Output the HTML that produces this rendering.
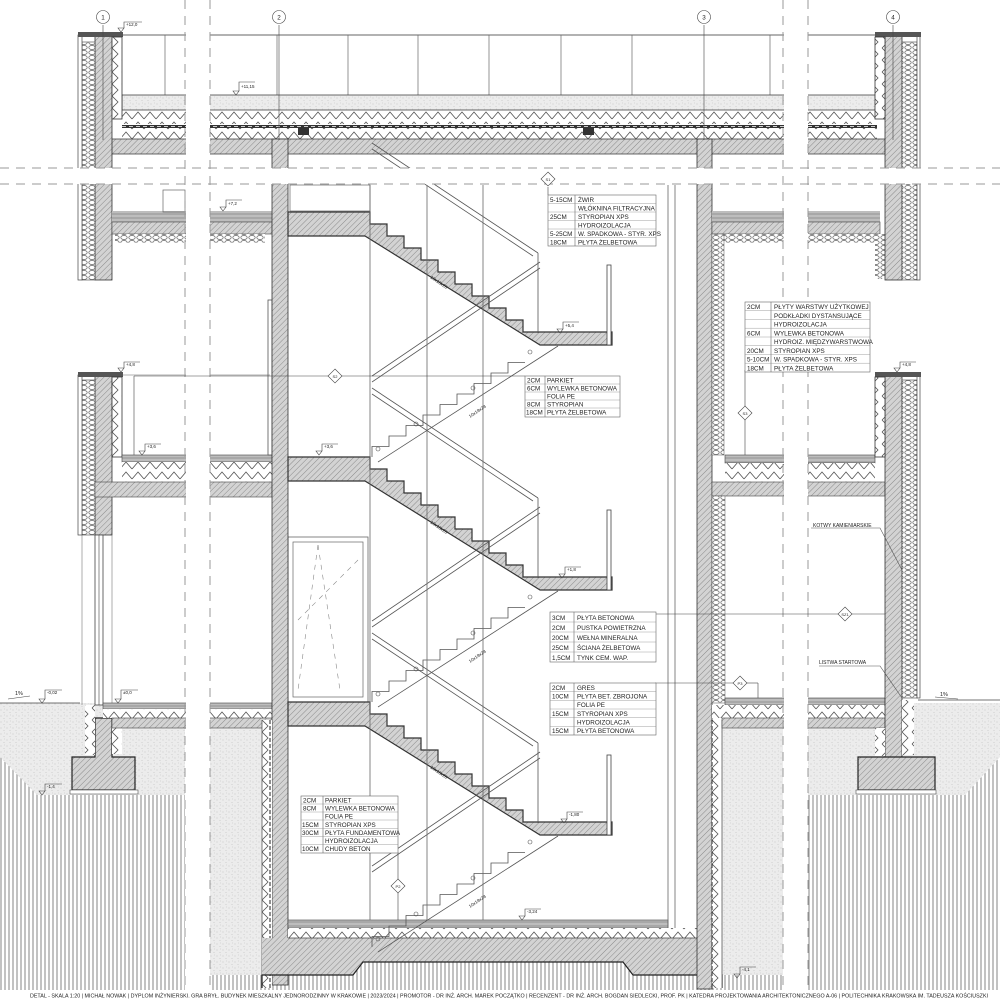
<!DOCTYPE html>
<html><head><meta charset="utf-8"><style>
html,body{margin:0;padding:0;background:#fff}
svg{display:block}
text{font-family:"Liberation Sans",sans-serif;fill:#222}
.t{font-size:6.3px}
.s{font-size:4.5px}
</style></head><body>
<svg width="1000" height="1000" viewBox="0 0 1000 1000" xmlns="http://www.w3.org/2000/svg">
<defs>
<pattern id="h" width="4" height="4" patternUnits="userSpaceOnUse" patternTransform="rotate(45)">
<rect width="4" height="4" fill="#d3d3d3"/><line x1="0" y1="0" x2="0" y2="4" stroke="#8a8a8a" stroke-width="1"/></pattern>
<pattern id="v" width="4" height="4" patternUnits="userSpaceOnUse">
<rect width="4" height="4" fill="#fff"/><line x1="1" y1="0" x2="1" y2="4" stroke="#777" stroke-width="0.9"/></pattern>
<pattern id="sp" width="6" height="6" patternUnits="userSpaceOnUse">
<rect width="6" height="6" fill="#ececec"/><circle cx="1" cy="2" r=".5" fill="#bbb"/><circle cx="4" cy="4.5" r=".5" fill="#c4c4c4"/><circle cx="4.5" cy="1" r=".4" fill="#bbb"/></pattern>
<pattern id="z" width="12" height="10" patternUnits="userSpaceOnUse">
<rect width="12" height="10" fill="#fff"/><polyline points="0,9 6,2 12,9" fill="none" stroke="#555" stroke-width=".8"/></pattern>
<pattern id="zv" width="10" height="12" patternUnits="userSpaceOnUse">
<rect width="10" height="12" fill="#fff"/><polyline points="2,0 8,6 2,12" fill="none" stroke="#555" stroke-width=".8"/></pattern>
<pattern id="c" width="8" height="5" patternUnits="userSpaceOnUse">
<rect width="8" height="5" fill="#fff"/><ellipse cx="4" cy="2.5" rx="3.2" ry="2" fill="none" stroke="#666" stroke-width=".7"/></pattern>
<pattern id="cv" width="8" height="5" patternUnits="userSpaceOnUse">
<rect width="8" height="5" fill="#fff"/><ellipse cx="4" cy="2.5" rx="3.2" ry="2" fill="none" stroke="#666" stroke-width=".7"/></pattern>
<pattern id="fin" width="4" height="4" patternUnits="userSpaceOnUse">
<rect width="4" height="4" fill="#bdbdbd"/><line x1="0" y1="2" x2="4" y2="2" stroke="#777" stroke-width=".6"/></pattern>

<g id="flight">
<path d="M288,212 H370 v12h17v12h17v12h17v12h17v12h17v12h17v12h17v12h17v12h17v12h17 H612 V345 H540 L365,236 H288 Z" fill="url(#h)" stroke="#333" stroke-width="1.2"/>
<rect x="607" y="265" width="4" height="80" fill="#fff" stroke="#444" stroke-width=".8"/>
<path d="M372,457 v-10.5h17v-10.5h17v-10.5h17v-10.5h17v-10.5h17v-10.5h17v-10.5h17v-10.5h17v-10.5h17" fill="none" stroke="#555" stroke-width=".8"/>
<line x1="378" y1="462" x2="558" y2="346" stroke="#555" stroke-width=".8"/>
<line x1="372" y1="376" x2="540" y2="262" stroke="#555" stroke-width=".8"/>
<line x1="372" y1="382" x2="540" y2="268" stroke="#555" stroke-width=".8"/>
<line x1="372" y1="143" x2="538" y2="253" stroke="#555" stroke-width=".8"/>
<line x1="372" y1="149" x2="533" y2="256" stroke="#555" stroke-width=".8"/>
<line x1="538" y1="253" x2="538" y2="333" stroke="#555" stroke-width=".8"/>
<circle cx="378" cy="449" r="2" fill="none" stroke="#555" stroke-width=".6"/>
<circle cx="416" cy="424" r="2" fill="none" stroke="#555" stroke-width=".6"/>
<circle cx="473" cy="388" r="2" fill="none" stroke="#555" stroke-width=".6"/>
<circle cx="530" cy="352" r="2" fill="none" stroke="#555" stroke-width=".6"/>
<text class="s" transform="translate(430,278) rotate(34)">10x18x28</text>
<text class="s" transform="translate(470,418) rotate(-34)">10x18x28</text>
</g>
</defs>

<!-- ground / soil -->
<path d="M0,703 H185 V1000 H0 Z" fill="url(#sp)"/>
<path d="M0,757 L37,795 H185 V1000 H0 Z" fill="url(#v)"/>
<path d="M808,703 H1000 V1000 H808 Z" fill="url(#sp)"/>
<path d="M1000,757 L965,795 H808 V1000 H1000 Z" fill="url(#v)"/>
<rect x="210" y="720" width="55" height="275" fill="url(#sp)"/>
<rect x="718" y="720" width="65" height="275" fill="url(#sp)"/>
<path d="M210,975 H353 L363,962 H623 L633,975 H783 V995 H210 Z" fill="url(#v)"/>
<line x1="0" y1="703" x2="80" y2="703" stroke="#444" stroke-width=".8"/>
<line x1="918" y1="700" x2="1000" y2="700" stroke="#444" stroke-width=".8"/>

<!-- roof -->
<line x1="78" y1="35" x2="920" y2="35" stroke="#666" stroke-width="1"/>
<g stroke="#666" stroke-width=".7">
<line x1="165" y1="35" x2="165" y2="95"/><line x1="277" y1="35" x2="277" y2="95"/><line x1="348" y1="35" x2="348" y2="95"/><line x1="418" y1="35" x2="418" y2="95"/><line x1="489" y1="35" x2="489" y2="95"/><line x1="561" y1="35" x2="561" y2="95"/><line x1="632" y1="35" x2="632" y2="95"/><line x1="770" y1="35" x2="770" y2="95"/>
</g>
<rect x="122" y="95" width="755" height="15" fill="url(#sp)" stroke="#444" stroke-width=".8"/>
<rect x="122" y="111" width="755" height="13" fill="url(#z)"/>
<rect x="122" y="125" width="755" height="3" fill="#333"/>
<line x1="122" y1="126.5" x2="877" y2="126.5" stroke="#fff" stroke-width=".8" stroke-dasharray="4,3"/>
<rect x="122" y="128" width="755" height="11" fill="url(#z)"/>
<rect x="298" y="127" width="11" height="8" fill="#333"/><rect x="583" y="127" width="11" height="8" fill="#333"/>
<rect x="110" y="139" width="775" height="15" fill="url(#h)" stroke="#444" stroke-width=".8"/>

<!-- left wall 1 -->
<g>
<rect x="95" y="35" width="17" height="245" fill="url(#h)" stroke="#333" stroke-width=".8"/>
<rect x="82" y="42" width="13" height="238" fill="url(#cv)" stroke="#444" stroke-width=".6"/>
<rect x="78" y="35" width="4" height="245" fill="#fff" stroke="#444" stroke-width=".7"/>
<rect x="78" y="32" width="45" height="5" fill="#555"/>
<rect x="112" y="37" width="10" height="82" fill="url(#zv)" stroke="#333" stroke-width=".8"/>
<rect x="95" y="375" width="17" height="160" fill="url(#h)" stroke="#333" stroke-width=".8"/>
<rect x="82" y="380" width="13" height="155" fill="url(#cv)" stroke="#444" stroke-width=".6"/>
<rect x="78" y="375" width="4" height="160" fill="#fff" stroke="#444" stroke-width=".7"/>
<rect x="78" y="372" width="45" height="5" fill="#555"/>
<rect x="112" y="377" width="10" height="80" fill="url(#zv)" stroke="#333" stroke-width=".8"/>
<rect x="95" y="535" width="8" height="170" fill="#fff" stroke="#444" stroke-width=".8"/>
<line x1="99" y1="535" x2="99" y2="705" stroke="#444" stroke-width=".6"/>
<line x1="82" y1="535" x2="82" y2="705" stroke="#777" stroke-width=".6"/>
<line x1="112" y1="535" x2="112" y2="705" stroke="#777" stroke-width=".6"/>
<path d="M95,718 H112 V757 H135 V790 H72 V757 H95 Z" fill="url(#h)" stroke="#222" stroke-width="1.2"/>
<rect x="70" y="790" width="68" height="4" fill="#fff" stroke="#555" stroke-width=".6"/>
<rect x="85" y="705" width="10" height="50" fill="url(#zv)"/>
<rect x="112" y="718" width="10" height="36" fill="url(#zv)"/>
</g>
<!-- left floor at +7.2 and +3.6 and 0 -->
<rect x="112" y="211" width="160" height="5" fill="url(#fin)"/>
<rect x="112" y="216" width="160" height="6" fill="url(#fin)"/>
<rect x="112" y="222" width="160" height="12" fill="url(#h)" stroke="#444" stroke-width=".6"/>
<rect x="115" y="234" width="150" height="9" fill="url(#c)"/>
<rect x="122" y="455" width="150" height="7" fill="url(#fin)" stroke="#444" stroke-width=".6"/>
<rect x="122" y="462" width="150" height="20" fill="url(#z)"/>
<rect x="95" y="482" width="177" height="15" fill="url(#h)" stroke="#444" stroke-width=".6"/>
<rect x="103" y="703" width="169" height="6" fill="url(#fin)" stroke="#444" stroke-width=".6"/>
<rect x="103" y="709" width="169" height="9" fill="url(#z)"/>
<rect x="112" y="718" width="160" height="10" fill="url(#h)" stroke="#444" stroke-width=".6"/>
<rect x="268" y="300" width="8" height="155" fill="#fff" stroke="#555" stroke-width=".8"/>
<line x1="272" y1="300" x2="272" y2="455" stroke="#555" stroke-width=".6"/>
<rect x="288" y="537" width="80" height="165" fill="#fff" stroke="#666" stroke-width=".8"/>
<rect x="293" y="542" width="70" height="155" fill="#fff" stroke="#666" stroke-width=".7"/>
<g stroke="#888" stroke-width=".6" stroke-dasharray="5,5"><line x1="318" y1="545" x2="298" y2="690"/><line x1="318" y1="545" x2="340" y2="690"/><line x1="358" y1="560" x2="298" y2="620"/></g>
<rect x="163" y="190" width="22" height="22" fill="none" stroke="#666" stroke-width=".7"/>
<rect x="290" y="185" width="80" height="26" fill="none" stroke="#666" stroke-width=".7"/>
<line x1="122" y1="375" x2="270" y2="375" stroke="#666" stroke-width=".6"/>

<!-- wall 2 -->
<rect x="272" y="139" width="16" height="846" fill="url(#h)" stroke="#333" stroke-width=".8"/>
<rect x="262" y="720" width="10" height="268" fill="url(#zv)"/>
<line x1="262" y1="720" x2="262" y2="988" stroke="#444" stroke-width=".7"/>
<line x1="270" y1="720" x2="270" y2="988" stroke="#222" stroke-width="1" stroke-dasharray="4,2"/>

<!-- basement slab -->
<rect x="288" y="920" width="380" height="8" fill="url(#fin)" stroke="#444" stroke-width=".6"/>
<rect x="288" y="928" width="409" height="10" fill="url(#z)"/>
<path d="M262,938 H697 V975 H633 L623,962 H363 L353,975 H262 Z" fill="url(#h)"/>
<path d="M262,988 V975 H353 L363,962 H623 L633,975 H722 V988" fill="none" stroke="#222" stroke-width="1.2"/>
<line x1="288" y1="938" x2="697" y2="938" stroke="#444" stroke-width=".7"/>

<!-- stairs -->
<use href="#flight"/>
<use href="#flight" transform="translate(0,245)"/>
<use href="#flight" transform="translate(0,490)"/>
<g stroke="#666" stroke-width=".8">
<line x1="370" y1="185" x2="370" y2="920"/><line x1="427" y1="185" x2="427" y2="920"/><line x1="483" y1="185" x2="483" y2="920"/>
<line x1="668" y1="185" x2="668" y2="928"/><line x1="675" y1="185" x2="675" y2="928"/>
</g>

<!-- wall 3 -->
<rect x="697" y="139" width="15" height="850" fill="url(#h)" stroke="#333" stroke-width=".8"/>
<rect x="712" y="720" width="10" height="268" fill="url(#zv)"/>
<line x1="722" y1="720" x2="722" y2="988" stroke="#444" stroke-width=".7"/>
<line x1="712" y1="720" x2="712" y2="988" stroke="#222" stroke-width="1" stroke-dasharray="4,2"/>
<!-- right floors -->
<rect x="712" y="211" width="168" height="5" fill="url(#fin)"/>
<rect x="712" y="216" width="168" height="6" fill="url(#fin)"/>
<rect x="712" y="222" width="168" height="12" fill="url(#h)" stroke="#444" stroke-width=".6"/>
<rect x="712" y="234" width="168" height="9" fill="url(#c)"/>
<rect x="712" y="234" width="12" height="221" fill="url(#cv)" stroke="#555" stroke-width=".5"/>
<rect x="875" y="234" width="10" height="45" fill="url(#cv)"/>
<rect x="725" y="455" width="150" height="8" fill="url(#fin)" stroke="#444" stroke-width=".6"/>
<rect x="725" y="463" width="150" height="19" fill="url(#z)"/>
<rect x="712" y="482" width="173" height="14" fill="url(#h)" stroke="#444" stroke-width=".6"/>
<rect x="712" y="496" width="13" height="207" fill="url(#cv)" stroke="#555" stroke-width=".5"/>
<rect x="725" y="698" width="160" height="7" fill="url(#fin)" stroke="#444" stroke-width=".6"/>
<rect x="712" y="705" width="173" height="13" fill="url(#z)"/>
<rect x="722" y="718" width="163" height="10" fill="url(#h)" stroke="#444" stroke-width=".6"/>

<!-- wall 4 -->
<rect x="885" y="35" width="17" height="245" fill="url(#h)" stroke="#333" stroke-width=".8"/>
<rect x="902" y="42" width="15" height="238" fill="url(#cv)" stroke="#444" stroke-width=".6"/>
<rect x="917" y="35" width="3" height="245" fill="#fff" stroke="#444" stroke-width=".7"/>
<rect x="875" y="32" width="46" height="5" fill="#555"/>
<rect x="875" y="37" width="10" height="82" fill="url(#zv)" stroke="#333" stroke-width=".8"/>
<rect x="885" y="375" width="17" height="382" fill="url(#h)" stroke="#333" stroke-width=".8"/>
<rect x="902" y="380" width="15" height="318" fill="url(#cv)" stroke="#444" stroke-width=".6"/>
<rect x="917" y="375" width="3" height="323" fill="#fff" stroke="#444" stroke-width=".7"/>
<rect x="875" y="372" width="46" height="5" fill="#555"/>
<rect x="875" y="377" width="10" height="80" fill="url(#zv)" stroke="#333" stroke-width=".8"/>
<path d="M878,757 H935 V790 H858 V757 Z" fill="url(#h)" stroke="#222" stroke-width="1.2"/>
<rect x="856" y="790" width="80" height="4" fill="#fff" stroke="#555" stroke-width=".6"/>
<rect x="902" y="700" width="12" height="55" fill="url(#zv)"/>
<rect x="875" y="728" width="10" height="28" fill="url(#zv)"/>

<!-- white cut bands -->
<rect x="186" y="0" width="24" height="1000" fill="#fff"/>
<rect x="784" y="0" width="24" height="1000" fill="#fff"/>
<rect x="0" y="168" width="1000" height="16" fill="#fff"/>
<g stroke="#999" stroke-width="1" stroke-dasharray="9,7">
<line x1="185" y1="0" x2="185" y2="990"/><line x1="210" y1="0" x2="210" y2="990"/>
<line x1="783" y1="0" x2="783" y2="990"/><line x1="808" y1="0" x2="808" y2="990"/>
<line x1="0" y1="168" x2="1000" y2="168"/><line x1="0" y1="184" x2="1000" y2="184"/>
</g>

<!-- axes -->
<g stroke="#444" stroke-width=".6" fill="#fff">
<line x1="103" y1="25" x2="103" y2="140"/><line x1="279" y1="25" x2="279" y2="140"/><line x1="704" y1="25" x2="704" y2="140"/><line x1="893" y1="25" x2="893" y2="140"/>
<circle cx="103" cy="17" r="6.5"/><circle cx="279" cy="17" r="6.5"/><circle cx="704" cy="17" r="6.5"/><circle cx="893" cy="17" r="6.5"/>
</g>
<g class="t" text-anchor="middle"><text x="103" y="19.5">1</text><text x="279" y="19.5">2</text><text x="704" y="19.5">3</text><text x="893" y="19.5">4</text></g>

<!-- level markers -->
<g stroke="#444" stroke-width=".6" fill="none">
<path d="M121,32 l3,-4 h-6 z M124,28 V22 H142"/>
<path d="M236,95 l3,-4 h-6 z M239,91 V82 H255"/>
<path d="M223,211 l3,-4 h-6 z M226,207 V200 H242"/>
<path d="M560,333 l3,-4 h-6 z M563,329 V322 H579"/>
<path d="M121,372 l3,-4 h-6 z M124,368 V362 H140"/>
<path d="M897,372 l3,-4 h-6 z M900,368 V362 H916"/>
<path d="M142,455 l3,-4 h-6 z M145,451 V444 H161"/>
<path d="M319,455 l3,-4 h-6 z M322,451 V444 H338"/>
<path d="M562,578 l3,-4 h-6 z M565,574 V567 H581"/>
<path d="M42,703 l3,-4 h-6 z M45,699 V690 H62"/>
<path d="M118,703 l3,-4 h-6 z M121,699 V690 H138"/>
<path d="M42,795 l3,-4 h-6 z M45,791 V784 H62"/>
<path d="M564,823 l3,-4 h-6 z M567,819 V812 H583"/>
<path d="M522,920 l3,-4 h-6 z M525,916 V909 H541"/>
<path d="M737,978 l3,-4 h-6 z M740,974 V967 H756"/>
<line x1="8" y1="699" x2="30" y2="696"/><line x1="935" y1="697" x2="958" y2="699"/>
</g>
<g class="s">
<text x="126" y="26">+12,0</text><text x="241" y="88">+11,15</text><text x="228" y="205">+7,2</text><text x="565" y="327">+5,4</text>
<text x="126" y="366">+4,8</text><text x="902" y="366">+4,8</text><text x="147" y="448">+3,6</text><text x="324" y="448">+3,6</text>
<text x="567" y="571">+1,8</text><text x="47" y="694">-0,02</text><text x="123" y="694">±0,0</text><text x="47" y="788">-1,4</text>
<text x="569" y="816">-1,80</text><text x="527" y="913">-3,24</text><text x="742" y="971">-4,1</text>
<text x="15" y="695" style="font-size:5.5px">1%</text><text x="940" y="696" style="font-size:5.5px">1%</text>
</g>

<!-- section markers -->
<g stroke="#444" stroke-width=".6" fill="#fff">
<line x1="548" y1="187" x2="548" y2="195"/>
<path d="M548,172 l7,7 -7,7 -7,-7z"/>
<line x1="134" y1="376" x2="330" y2="376"/><line x1="134" y1="376" x2="134" y2="455"/><line x1="342" y1="376" x2="525" y2="376"/>
<path d="M335,369 l7,7 -7,7 -7,-7z"/>
<line x1="745" y1="370" x2="745" y2="406"/><line x1="745" y1="420" x2="745" y2="455"/>
<path d="M745,406 l7,7 -7,7 -7,-7z"/>
<line x1="700" y1="614" x2="838" y2="614"/><line x1="852" y1="614" x2="885" y2="614"/><line x1="655" y1="614" x2="700" y2="614"/>
<path d="M845,607 l7,7 -7,7 -7,-7z"/>
<line x1="655" y1="683" x2="733" y2="683"/><line x1="747" y1="683" x2="758" y2="683"/><line x1="758" y1="683" x2="758" y2="698"/>
<path d="M740,676 l7,7 -7,7 -7,-7z"/>
<line x1="398" y1="852" x2="398" y2="879"/><line x1="398" y1="893" x2="398" y2="920"/>
<path d="M398,879 l7,7 -7,7 -7,-7z"/>
</g>
<g style="font-size:4px" text-anchor="middle"><text x="548" y="181">S1</text><text x="335" y="378">S2</text><text x="745" y="415">S3</text><text x="845" y="616">SZ1</text><text x="740" y="685">P3</text><text x="398" y="888">P2</text></g>

<!-- leaders -->
<g stroke="#555" stroke-width=".6" fill="none">
<path d="M811,528 H880 L902,570"/><path d="M819,666 H880 L902,698"/>
</g>
<text class="s" x="813" y="527" style="font-size:5px">KOTWY KAMIENIARSKIE</text>
<text class="s" x="819" y="664" style="font-size:5px">LISTWA STARTOWA</text>

<!-- tables -->
<g fill="#fff" stroke="#666" stroke-width=".6">
<rect x="548" y="195" width="108" height="51"/><line x1="575" y1="195" x2="575" y2="246"/>
<rect x="525" y="376" width="95" height="41"/><line x1="545" y1="376" x2="545" y2="417"/>
<rect x="745" y="302" width="125" height="70"/><line x1="771" y1="302" x2="771" y2="372"/>
<rect x="550" y="612" width="106" height="50"/><line x1="574" y1="612" x2="574" y2="662"/>
<rect x="550" y="683" width="106" height="52"/><line x1="574" y1="683" x2="574" y2="735"/>
<rect x="301" y="796" width="97" height="57"/><line x1="323" y1="796" x2="323" y2="853"/>
</g>
<g stroke="#888" stroke-width=".4">
<line x1="548" y1="203.5" x2="656" y2="203.5"/><line x1="548" y1="212" x2="656" y2="212"/><line x1="548" y1="220.5" x2="656" y2="220.5"/><line x1="548" y1="229" x2="656" y2="229"/><line x1="548" y1="237.5" x2="656" y2="237.5"/>
<line x1="525" y1="384" x2="620" y2="384"/><line x1="525" y1="392" x2="620" y2="392"/><line x1="525" y1="400" x2="620" y2="400"/><line x1="525" y1="408" x2="620" y2="408"/>
<line x1="745" y1="310.7" x2="870" y2="310.7"/><line x1="745" y1="319.5" x2="870" y2="319.5"/><line x1="745" y1="328.2" x2="870" y2="328.2"/><line x1="745" y1="337" x2="870" y2="337"/><line x1="745" y1="345.7" x2="870" y2="345.7"/><line x1="745" y1="354.5" x2="870" y2="354.5"/><line x1="745" y1="363.2" x2="870" y2="363.2"/>
<line x1="550" y1="622" x2="656" y2="622"/><line x1="550" y1="632" x2="656" y2="632"/><line x1="550" y1="642" x2="656" y2="642"/><line x1="550" y1="652" x2="656" y2="652"/>
<line x1="550" y1="691.7" x2="656" y2="691.7"/><line x1="550" y1="700.3" x2="656" y2="700.3"/><line x1="550" y1="709" x2="656" y2="709"/><line x1="550" y1="717.7" x2="656" y2="717.7"/><line x1="550" y1="726.3" x2="656" y2="726.3"/>
<line x1="301" y1="804" x2="398" y2="804"/><line x1="301" y1="812" x2="398" y2="812"/><line x1="301" y1="820" x2="398" y2="820"/><line x1="301" y1="828.5" x2="398" y2="828.5"/><line x1="301" y1="836.5" x2="398" y2="836.5"/><line x1="301" y1="844.5" x2="398" y2="844.5"/>
</g>
<g class="t">
<text x="550" y="202">5-15CM</text><text x="578" y="202">ŻWIR</text>
<text x="578" y="210.5">WŁÓKNINA FILTRACYJNA</text>
<text x="550" y="219">25CM</text><text x="578" y="219">STYROPIAN XPS</text>
<text x="578" y="227.5">HYDROIZOLACJA</text>
<text x="550" y="236">5-25CM</text><text x="578" y="236">W. SPADKOWA - STYR. XPS</text>
<text x="550" y="244.5">18CM</text><text x="578" y="244.5">PŁYTA ŻELBETOWA</text>

<text x="527" y="382.5">2CM</text><text x="547" y="382.5">PARKIET</text>
<text x="527" y="390.5">6CM</text><text x="547" y="390.5">WYLEWKA BETONOWA</text>
<text x="547" y="398.5">FOLIA PE</text>
<text x="527" y="406.5">8CM</text><text x="547" y="406.5">STYROPIAN</text>
<text x="526" y="414.5">18CM</text><text x="547" y="414.5">PŁYTA ŻELBETOWA</text>

<text x="747" y="309">2CM</text><text x="774" y="309">PŁYTY WARSTWY UŻYTKOWEJ</text>
<text x="774" y="318">PODKŁADKI DYSTANSUJĄCE</text>
<text x="774" y="326.5">HYDROIZOLACJA</text>
<text x="747" y="335.5">6CM</text><text x="774" y="335.5">WYLEWKA BETONOWA</text>
<text x="774" y="344">HYDROIZ. MIĘDZYWARSTWOWA</text>
<text x="747" y="353">20CM</text><text x="774" y="353">STYROPIAN XPS</text>
<text x="747" y="361.5">5-10CM</text><text x="774" y="361.5">W. SPADKOWA - STYR. XPS</text>
<text x="747" y="370.5">18CM</text><text x="774" y="370.5">PŁYTA ŻELBETOWA</text>

<text x="552" y="620">3CM</text><text x="577" y="620">PŁYTA BETONOWA</text>
<text x="552" y="630">2CM</text><text x="577" y="630">PUSTKA POWIETRZNA</text>
<text x="552" y="640">20CM</text><text x="577" y="640">WEŁNA MINERALNA</text>
<text x="552" y="650">25CM</text><text x="577" y="650">ŚCIANA ŻELBETOWA</text>
<text x="552" y="660">1,5CM</text><text x="577" y="660">TYNK CEM. WAP.</text>

<text x="552" y="690">2CM</text><text x="577" y="690">GRES</text>
<text x="552" y="698.5">10CM</text><text x="577" y="698.5">PŁYTA BET. ZBROJONA</text>
<text x="577" y="707">FOLIA PE</text>
<text x="552" y="716">15CM</text><text x="577" y="716">STYROPIAN XPS</text>
<text x="577" y="724.5">HYDROIZOLACJA</text>
<text x="552" y="733">15CM</text><text x="577" y="733">PŁYTA BETONOWA</text>

<text x="303" y="802.5">2CM</text><text x="325" y="802.5">PARKIET</text>
<text x="303" y="810.5">8CM</text><text x="325" y="810.5">WYLEWKA BETONOWA</text>
<text x="325" y="818.5">FOLIA PE</text>
<text x="302" y="827">15CM</text><text x="325" y="827">STYROPIAN XPS</text>
<text x="302" y="835">30CM</text><text x="325" y="835">PŁYTA FUNDAMENTOWA</text>
<text x="325" y="843">HYDROIZOLACJA</text>
<text x="302" y="851">10CM</text><text x="325" y="851">CHUDY BETON</text>
</g>

<!-- footer -->
<rect x="0" y="990" width="1000" height="10" fill="#fff"/>
<text x="30" y="997.5" style="font-size:5px" textLength="958" lengthAdjust="spacingAndGlyphs">DETAL - SKALA 1:20  |  MICHAŁ NOWAK  |  DYPLOM INŻYNIERSKI. GRA BRYŁ. BUDYNEK MIESZKALNY JEDNORODZINNY W KRAKOWIE  |  2023/2024  |  PROMOTOR - DR INŻ. ARCH. MAREK POCZĄTKO  |  RECENZENT - DR INŻ. ARCH. BOGDAN SIEDLECKI, PROF. PK  |  KATEDRA PROJEKTOWANIA ARCHITEKTONICZNEGO A-06  |  POLITECHNIKA KRAKOWSKA IM. TADEUSZA KOŚCIUSZKI</text>
</svg>
</body></html>
